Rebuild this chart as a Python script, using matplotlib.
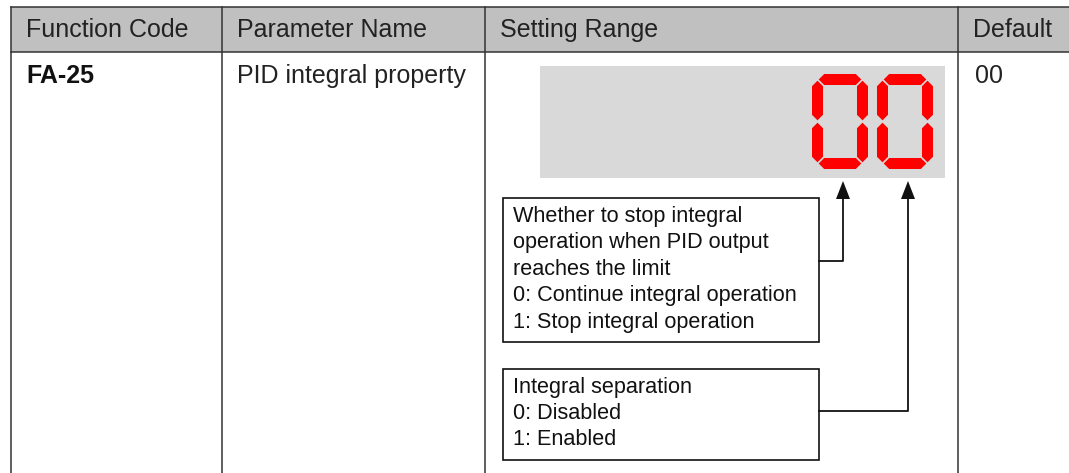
import matplotlib
matplotlib.use("Agg")
import matplotlib.pyplot as plt
from matplotlib.patches import Rectangle, Polygon

plt.rcParams['font.family'] = ['Liberation Sans', 'DejaVu Sans']

# ---- data ----
headers = ["Function Code", "Parameter Name", "Setting Range", "Default"]
func_code = "FA-25"
param_name = "PID integral property"
default_val = "00"
display_digits = "00"
box1_lines = ["Whether to stop integral",
              "operation when PID output",
              "reaches the limit",
              "0: Continue integral operation",
              "1: Stop integral operation"]
box2_lines = ["Integral separation",
              "0: Disabled",
              "1: Enabled"]

W, H = 1069, 473
fig = plt.figure(figsize=(W / 100, H / 100), dpi=100)
ax = fig.add_axes([0, 0, 1, 1])
ax.set_xlim(0, W)
ax.set_ylim(H, 0)
ax.axis('off')

line_c = '#333333'
lw = 1.1

# header background
col_x = [11, 222, 485, 958]
top, hdr_bot = 7, 52
ax.add_patch(Rectangle((col_x[0], top), W - col_x[0], hdr_bot - top,
                       facecolor='#c0c0c0', edgecolor='none', zorder=0))
ax.plot([col_x[0], W], [top, top], color=line_c, lw=lw)
ax.plot([col_x[0], W], [hdr_bot, hdr_bot], color=line_c, lw=lw)
for x in col_x:
    ax.plot([x, x], [top, H], color=line_c, lw=lw)

fs = 18
hdr_x = [26, 237, 500, 973]
for x, t in zip(hdr_x, headers):
    ax.text(x, 30, t, fontsize=fs, va='center', ha='left', color='#222222')

ax.text(26, 76, func_code, fontsize=fs, fontweight='bold', va='center', ha='left', color='#111111')
ax.text(237, 76, param_name, fontsize=fs, va='center', ha='left', color='#222222')
ax.text(975, 76, default_val, fontsize=fs, va='center', ha='left', color='#222222')

# gray display panel
ax.add_patch(Rectangle((540, 66), 945 - 540, 178 - 66, facecolor='#d9d9d9',
                       edgecolor='none', zorder=1))


def hseg(x0, x1, yc, t):
    h = t / 2
    return [(x0, yc), (x0 + h, yc - h), (x1 - h, yc - h), (x1, yc),
            (x1 - h, yc + h), (x0 + h, yc + h)]


def vseg(xc, y0, y1, t):
    h = t / 2
    return [(xc, y0), (xc + h, y0 + h), (xc + h, y1 - h), (xc, y1),
            (xc - h, y1 - h), (xc - h, y0 + h)]


def draw_zero(x0, y0, w, hgt, t):
    g = 1.2
    xl, xr = x0 + t / 2, x0 + w - t / 2
    yt, yb = y0 + t / 2, y0 + hgt - t / 2
    ym = (yt + yb) / 2
    segs = [hseg(xl + g, xr - g, yt, t), hseg(xl + g, xr - g, yb, t),
            vseg(xl, yt + g, ym - g, t), vseg(xl, ym + g, yb - g, t),
            vseg(xr, yt + g, ym - g, t), vseg(xr, ym + g, yb - g, t)]
    for s in segs:
        ax.add_patch(Polygon(s, closed=True, facecolor='#ff0000', edgecolor='none', zorder=2))


digit_x = [812, 877]
for dx, d in zip(digit_x, display_digits):
    draw_zero(dx, 74, 56, 95, 11)

# boxes
bx0, bx1 = 503, 819
ax.add_patch(Rectangle((bx0, 198), bx1 - bx0, 342 - 198, facecolor='white',
                       edgecolor='#111111', lw=1.2, zorder=3))
ax.add_patch(Rectangle((bx0, 369), bx1 - bx0, 460 - 369, facecolor='white',
                       edgecolor='#111111', lw=1.2, zorder=3))

bfs = 15.6
for i, t in enumerate(box1_lines):
    ax.text(513, 216 + i * 26.5, t, fontsize=bfs, va='center', ha='left', color='#111111', zorder=4)
for i, t in enumerate(box2_lines):
    ax.text(513, 387 + i * 26, t, fontsize=bfs, va='center', ha='left', color='#111111', zorder=4)


def arrow(ax_x, y_h):
    ax.plot([bx1, ax_x, ax_x], [y_h, y_h, 196], color='#111111', lw=1.3, zorder=3)
    ax.add_patch(Polygon([(ax_x, 181), (ax_x - 7, 199), (ax_x + 7, 199)], closed=True,
                         facecolor='#111111', edgecolor='none', zorder=3))


arrow(843, 261)
arrow(908, 411)

fig.savefig('out.png', dpi=100)
